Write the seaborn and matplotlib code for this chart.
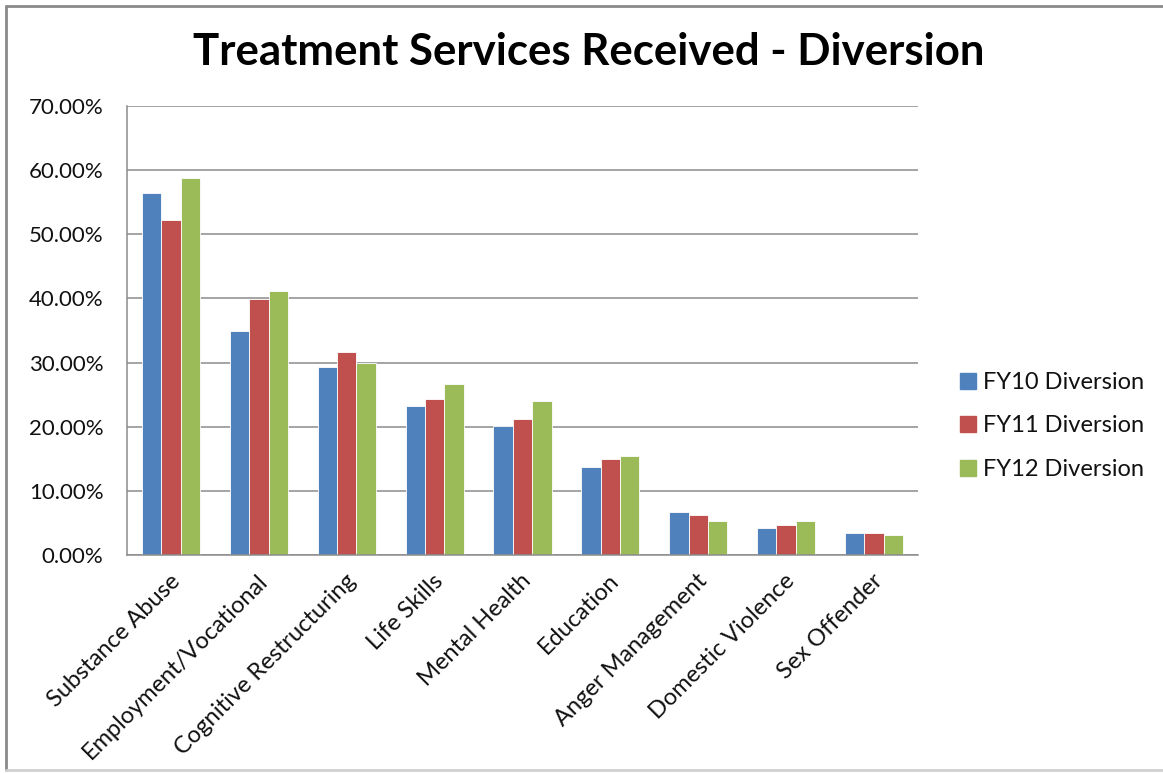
import matplotlib
matplotlib.use("Agg")
import matplotlib.pyplot as plt
import matplotlib.ticker as mticker
import matplotlib.transforms as mtransforms
from matplotlib.lines import Line2D
import pandas as pd
import seaborn as sns

# Data (percent of diversion participants)
services = ["Substance Abuse", "Employment/Vocational", "Cognitive Restructuring", "Life Skills",
            "Mental Health", "Education", "Anger Management", "Domestic Violence", "Sex Offender"]
fy10 = [56.4, 34.9, 29.3, 23.3, 20.1, 13.7, 6.7, 4.2, 3.5]
fy11 = [52.3, 39.9, 31.6, 24.3, 21.2, 14.9, 6.2, 4.7, 3.5]
fy12 = [58.7, 41.2, 29.9, 26.7, 24.0, 15.4, 5.25, 5.25, 3.1]
series = ["FY10 Diversion", "FY11 Diversion", "FY12 Diversion"]
colors = ["#4F81BD", "#C0504D", "#9BBB59"]

sns.set_theme(style="white")
plt.rcParams["font.family"] = ["Lato", "DejaVu Sans"]

df = pd.DataFrame({
    "service": services * 3,
    "pct": fy10 + fy11 + fy12,
    "series": [s for s in series for _ in services],
})

fig = plt.figure(figsize=(11.63, 7.73), dpi=100)
ax = fig.add_axes([127 / 1163, 1 - 555 / 773, (918 - 127) / 1163, (555 - 106) / 773])

sns.barplot(data=df, x="service", y="pct", hue="series", order=services, hue_order=series,
            palette=colors, saturation=1, width=0.66, ax=ax, legend=False,
            edgecolor="white", linewidth=0.6)

ax.set_ylim(0, 70)
ax.set_xlim(-0.5, len(services) - 0.5)
ax.yaxis.set_major_locator(mticker.MultipleLocator(10))
ax.yaxis.set_major_formatter(mticker.FuncFormatter(lambda v, p: f"{v:.2f}%"))
ax.grid(axis="y", color="#8C8C8C", linewidth=1.1)
ax.set_axisbelow(True)
for side in ["top", "right"]:
    ax.spines[side].set_visible(False)
for side in ["left", "bottom"]:
    ax.spines[side].set_color("#8C8C8C")
    ax.spines[side].set_linewidth(1.1)
ax.set_xlabel("")
ax.set_ylabel("")
ax.tick_params(axis="y", length=0, pad=17, labelsize=16, labelcolor="#111111")
ax.tick_params(axis="x", length=0, pad=8, labelsize=17, labelcolor="#111111")
shift = mtransforms.ScaledTranslation(-2 / 100, -4 / 100, fig.dpi_scale_trans)
for lab in ax.get_xticklabels():
    lab.set_rotation(45)
    lab.set_ha("right")
    lab.set_rotation_mode("anchor")
    lab.set_transform(lab.get_transform() + shift)

fig.text(0.506, 0.933, "Treatment Services Received - Diversion", ha="center", va="center",
         fontsize=31.5, fontweight="bold", color="black")

handles = [Line2D([], [], marker="s", linestyle="", markersize=11, markerfacecolor=c,
                  markeredgecolor=c) for c in colors]
fig.legend(handles, series, loc="center left", bbox_to_anchor=(933 / 1163, 1 - 426 / 773),
           frameon=False, fontsize=17, labelspacing=0.95, handletextpad=0.0, handlelength=1.2,
           labelcolor="#111111")

# outer chart border (left, top, bottom visible in the reference)
fig.add_artist(Line2D([6 / 1163, 6 / 1163], [1 - 6 / 773, 1 - 770 / 773], transform=fig.transFigure,
                      color="#8A8A8A", linewidth=2))
fig.add_artist(Line2D([6 / 1163, 1.0], [1 - 6 / 773, 1 - 6 / 773], transform=fig.transFigure,
                      color="#8A8A8A", linewidth=2))
fig.add_artist(Line2D([6 / 1163, 1.0], [1 - 770 / 773, 1 - 770 / 773], transform=fig.transFigure,
                      color="#D0D0D0", linewidth=2))

fig.savefig("out.png", dpi=100, facecolor="white")
